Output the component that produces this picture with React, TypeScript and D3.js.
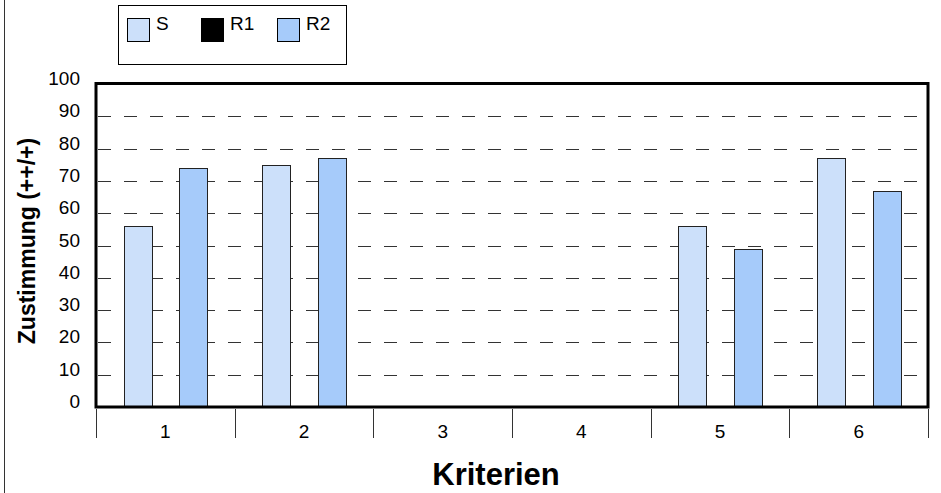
import * as d3 from "d3"
import React from "react"

const categories = ["1", "2", "3", "4", "5", "6"]
const seriesNames = ["S", "R1", "R2"]
const valuesS = [56, 75, 0, 0, 56, 77]
const valuesR1: number[] = [0, 0, 0, 0, 0, 0]
const valuesR2 = [74, 77, 0, 0, 49, 67]
const yTicks = [0, 10, 20, 30, 40, 50, 60, 70, 80, 90, 100]

const colors: Record<string, string> = {
  S: "#cce0fa",
  R1: "#000000",
  R2: "#a6cbfa",
}

const font = "'Liberation Sans', Arial, sans-serif"

export default function App() {
  const width = 941,
    height = 493
  const left = 96,
    right = 928,
    top = 84,
    bottom = 407

  const x0 = d3.scaleBand<string>().domain(categories).range([left, right])
  const x1 = d3
    .scaleBand<string>()
    .domain(seriesNames)
    .range([0, x0.bandwidth()])
    .paddingOuter(1)
  const y = d3.scaleLinear().domain([0, 100]).range([bottom, top])

  const data = seriesNames.map((name, i) => ({
    name,
    values: [valuesS, valuesR1, valuesR2][i],
  }))

  // band boundaries for the x tick marks
  const boundaries = categories.map((c) => x0(c)!).concat([right])

  return (
    <div style={{ position: "absolute", left: 0, top: 0 }}>
      <svg width={width} height={height} style={{ display: "block", background: "#fff" }}>
        <line x1={4.5} x2={4.5} y1={0} y2={height} stroke="#333" strokeWidth={1} />

        {/* legend */}
        <rect x={118.5} y={5.5} width={228} height={59} fill="#fff" stroke="#000" strokeWidth={1} />
        {seriesNames.map((name, i) => {
          const lx = [127, 201, 277][i]
          return (
            <g key={name}>
              <rect
                x={lx + 0.5}
                y={18.5}
                width={22}
                height={23}
                fill={colors[name]}
                stroke="#000"
                strokeWidth={1}
              />
              <text x={lx + 29} y={30} fontFamily={font} fontSize={19} fill="#000">
                {name}
              </text>
            </g>
          )
        })}

        {/* grid */}
        {yTicks
          .filter((t) => t > 0 && t < 100)
          .map((t) => (
            <line
              key={t}
              x1={left}
              x2={right}
              y1={Math.round(y(t)) + 0.5}
              y2={Math.round(y(t)) + 0.5}
              stroke="#333"
              strokeWidth={1}
              strokeDasharray="13,13"
              strokeDashoffset={-2}
            />
          ))}

        {/* bars */}
        {data.map((s) =>
          s.values.map((v, i) =>
            v > 0 ? (
              <rect
                key={s.name + i}
                x={Math.round(x0(categories[i])! + x1(s.name)!) + 0.5}
                y={Math.round(y(v)) + 0.5}
                width={Math.round(x1.bandwidth())}
                height={bottom - Math.round(y(v))}
                fill={colors[s.name]}
                stroke="#222"
                strokeWidth={1}
              />
            ) : null
          )
        )}

        {/* plot border */}
        <rect
          x={left}
          y={top - 0.5}
          width={right - left}
          height={bottom - top + 0.5}
          fill="none"
          stroke="#000"
          strokeWidth={3}
        />

        {/* y axis labels */}
        {yTicks.map((t) => (
          <text
            key={t}
            x={80}
            y={y(t) + 1}
            textAnchor="end"
            fontFamily={font}
            fontSize={19}
            fill="#000"
          >
            {t}
          </text>
        ))}

        {/* x ticks and labels */}
        {boundaries.map((b, i) => (
          <line
            key={i}
            x1={Math.round(b) + 0.5}
            x2={Math.round(b) + 0.5}
            y1={bottom + 2}
            y2={438}
            stroke="#333"
            strokeWidth={1}
          />
        ))}
        {categories.map((c) => (
          <text
            key={c}
            x={x0(c)! + x0.bandwidth() / 2}
            y={438}
            textAnchor="middle"
            fontFamily={font}
            fontSize={19}
            fill="#000"
          >
            {c}
          </text>
        ))}

        {/* axis titles */}
        <text
          transform="translate(35,241) rotate(-90)"
          textAnchor="middle"
          fontFamily={font}
          fontSize={23}
          fontWeight="bold"
          fill="#000"
        >
          Zustimmung (++/+)
        </text>
        <text
          x={496}
          y={485}
          textAnchor="middle"
          fontFamily={font}
          fontSize={31}
          fontWeight="bold"
          fill="#000"
        >
          Kriterien
        </text>
      </svg>
    </div>
  )
}
